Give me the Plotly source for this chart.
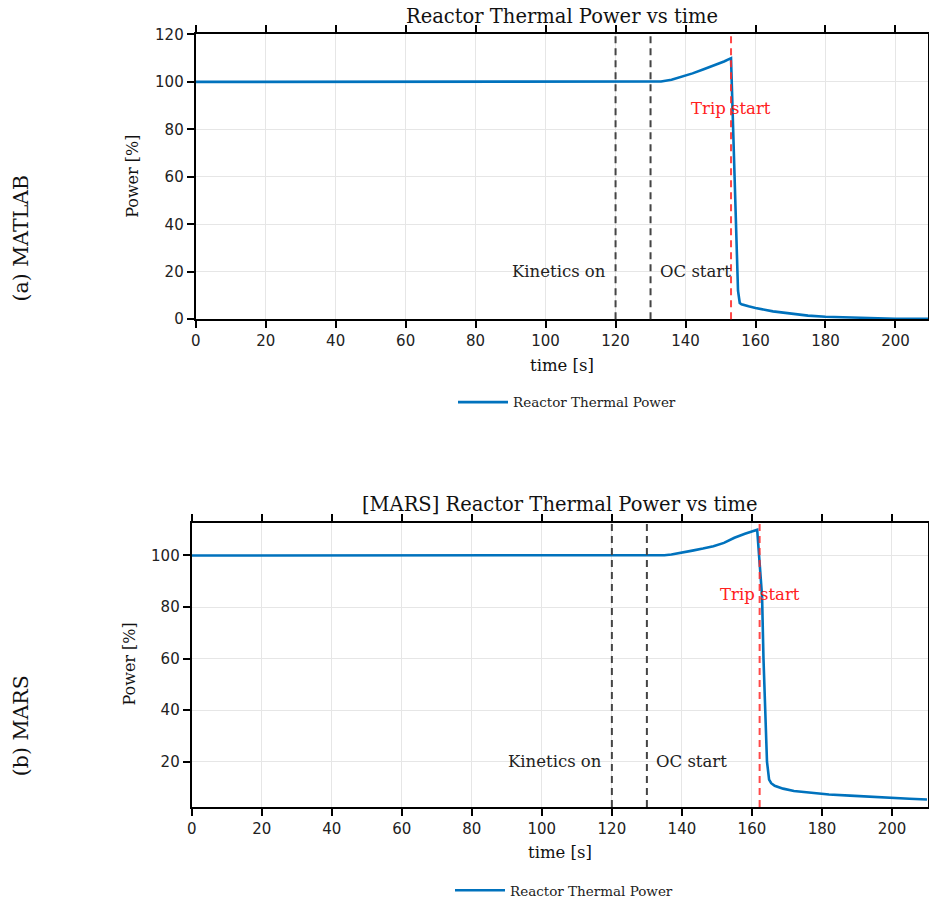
import plotly.graph_objects as go

# ---- data -----------------------------------------------------------------
# MATLAB reactor thermal power [%] vs time [s]
matlab_time = [0, 130, 133, 136, 139, 142, 145, 148, 151, 153.0,
               153.4, 154.0, 154.6, 155.0, 155.5, 156, 158, 160, 165, 170,
               175, 180, 190, 200, 210]
matlab_power = [100, 100, 100.2, 100.9, 102.1, 103.6, 105.2, 106.8, 108.6, 110,
                90, 62, 34, 12, 6.8, 6.3, 5.4, 4.7, 3.3, 2.3,
                1.5, 1.0, 0.45, 0.2, 0.1]

# MARS reactor thermal power [%] vs time [s]
mars_time = [0, 133, 135, 137, 140, 143, 146, 149, 152, 155, 158, 160, 161.5,
             162.2, 162.9, 163.3, 163.8, 164.3, 164.9, 165.5, 166.5, 168.9,
             172, 177.4, 182, 188, 195, 200, 205, 210]
mars_power = [100, 100, 100.1, 100.4, 101.3, 101.9, 102.7, 103.6, 104.9, 106.9,
              108.4, 109.2, 110,
              97, 84, 60, 39, 20, 13, 11.6, 10.6, 9.5,
              8.6, 7.8, 7.2, 6.8, 6.2, 5.9, 5.6, 5.3]

# event times [s]
kinetics_on = 120
oc_start = 130
matlab_trip = 153
mars_trip = 162.2

# heights of the event labels [%]
event_label_power = 20
matlab_trip_label_power = 89
mars_trip_label_power = 85

x_ticks = [0, 20, 40, 60, 80, 100, 120, 140, 160, 180, 200]
matlab_y_ticks = [0, 20, 40, 60, 80, 100, 120]
mars_y_ticks = [20, 40, 60, 80, 100]

# ---- styling ----------------------------------------------------------------
W, H = 929, 906
BLUE = "#0072BD"
SERIF = "DejaVu Serif"
SANS = "DejaVu Sans"
GRID = "#e6e6e6"


def px_x(p):
    return p / W


def px_y(p):
    return 1 - p / H


fig = go.Figure()

fig.add_trace(go.Scatter(x=matlab_time, y=matlab_power, mode="lines",
                         line=dict(color=BLUE, width=2.6),
                         name="Reactor Thermal Power", xaxis="x", yaxis="y",
                         legend="legend"))
fig.add_trace(go.Scatter(x=mars_time, y=mars_power, mode="lines",
                         line=dict(color=BLUE, width=2.6),
                         name="Reactor Thermal Power", xaxis="x2", yaxis="y2",
                         legend="legend2"))

axis_common = dict(showline=True, linecolor="black", linewidth=2,
                   mirror="allticks", ticks="outside", ticklen=7, tickwidth=2,
                   tickcolor="black", showgrid=True, gridcolor=GRID,
                   gridwidth=1, zeroline=False, automargin=False,
                   tickfont=dict(family=SANS, size=15, color="#222"))

legend_common = dict(xanchor="left", yanchor="middle",
                     bgcolor="rgba(0,0,0,0)", itemwidth=50,
                     font=dict(family=SERIF, size=13.5, color="#222"))

fig.update_layout(
    width=W, height=H,
    margin=dict(l=0, r=0, t=0, b=0),
    plot_bgcolor="white", paper_bgcolor="white",
    xaxis=dict(domain=[px_x(195.7), px_x(928)], range=[0, 209.3],
               tickvals=x_ticks, anchor="y", **axis_common),
    yaxis=dict(domain=[px_y(321.3), px_y(34.7)], range=[0, 120],
               tickvals=matlab_y_ticks, anchor="x", **axis_common),
    xaxis2=dict(domain=[px_x(191.7), px_x(927.7)], range=[0, 210.2],
                tickvals=x_ticks, anchor="y2", **axis_common),
    yaxis2=dict(domain=[px_y(812.3), px_y(526)], range=[2.4, 112.8],
                tickvals=mars_y_ticks, anchor="x2", **axis_common),
    legend=dict(x=px_x(453), y=px_y(405), **legend_common),
    legend2=dict(x=px_x(450), y=px_y(896.5), **legend_common),
    showlegend=True,
)

# event markers
events = [
    ("x", "y", kinetics_on, "#444444"),
    ("x", "y", oc_start, "#444444"),
    ("x", "y", matlab_trip, "rgba(255,40,40,0.85)"),
    ("x2", "y2", kinetics_on, "#444444"),
    ("x2", "y2", oc_start, "#444444"),
    ("x2", "y2", mars_trip, "rgba(255,40,40,0.85)"),
]
for xr, yr, t, c in events:
    fig.add_shape(type="line", xref=xr, yref=f"{yr} domain", x0=t, x1=t,
                  y0=0, y1=1, line=dict(color=c, width=2, dash="7px,5px"),
                  layer="above")

txt = dict(family=SERIF, size=16.5, color="#222")
red_txt = dict(family=SERIF, size=16.5, color="#ff2020")
for xr, yr, trip, trip_p in [("x", "y", matlab_trip, matlab_trip_label_power),
                             ("x2", "y2", mars_trip, mars_trip_label_power)]:
    fig.add_annotation(xref=xr, yref=yr, x=kinetics_on - 2.3, y=event_label_power,
                       text="Kinetics on", showarrow=False, xanchor="right",
                       yanchor="middle", font=txt)
    fig.add_annotation(xref=xr, yref=yr, x=oc_start + 2.0, y=event_label_power,
                       text="OC start", showarrow=False, xanchor="left",
                       yanchor="middle", font=txt)
    fig.add_annotation(xref=xr, yref=yr, x=trip, y=trip_p,
                       text="Trip start", showarrow=False, xanchor="center",
                       yanchor="middle", font=red_txt)

# titles, axis labels and panel captions
labels = [
    (562, 17, "Reactor Thermal Power vs time", 19.5, 0),
    (560, 508, "[MARS] Reactor Thermal Power vs time", 19.5, 0),
    (562, 368, "time [s]", 16.5, 0),
    (560, 858, "time [s]", 16.5, 0),
    (133, 178, "Power [%]", 16, -90),
    (130, 669, "Power [%]", 16, -90),
    (21, 240, "(a) MATLAB", 20.5, -90),
    (21, 731, "(b) MARS", 20.5, -90),
]
for x, y, t, s, a in labels:
    fig.add_annotation(xref="paper", yref="paper", x=px_x(x), y=px_y(y),
                       text=t, showarrow=False, xanchor="center",
                       yanchor="middle", textangle=a,
                       font=dict(family=SERIF, size=s, color="#111"))

fig.write_html("out.html")
